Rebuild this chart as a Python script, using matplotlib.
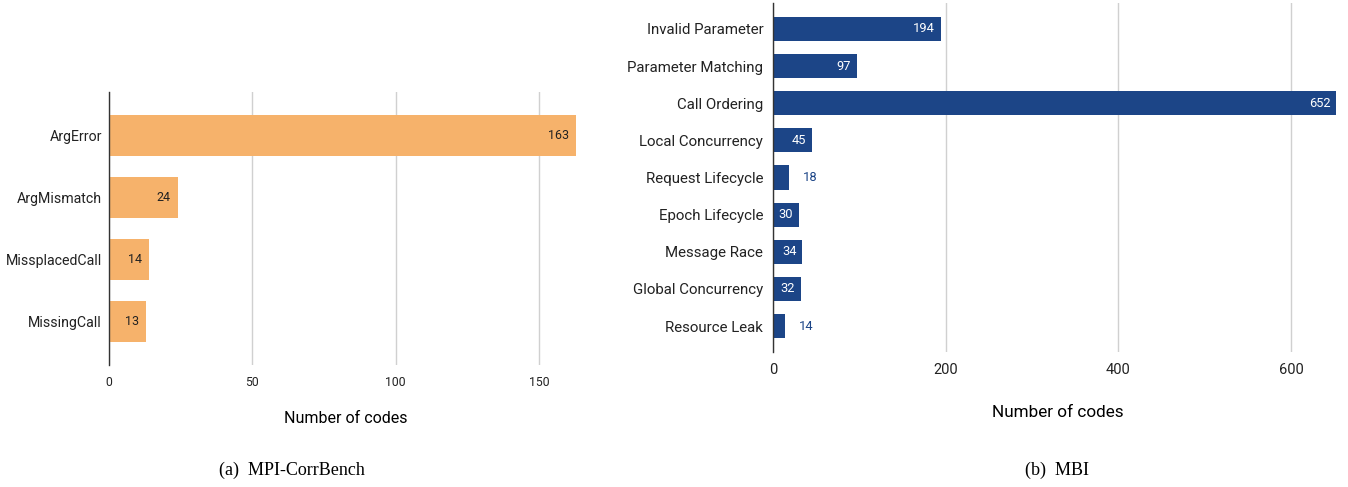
import matplotlib
matplotlib.use("Agg")
import matplotlib.pyplot as plt

plt.rcParams['font.family'] = ['Roboto', 'DejaVu Sans']

# MPI-CorrBench
corr_cats = ["ArgError", "ArgMismatch", "MissplacedCall", "MissingCall"]
corr_vals = [163, 24, 14, 13]

# MBI
mbi_cats = ["Invalid Parameter", "Parameter Matching", "Call Ordering",
            "Local Concurrency", "Request Lifecycle", "Epoch Lifecycle",
            "Message Race", "Global Concurrency", "Resource Leak"]
mbi_vals = [194, 97, 652, 45, 18, 30, 34, 32, 14]

ORANGE = "#f6b26b"
BLUE = "#1c4587"
GRID = "#d0d0d0"

W, H = 1348, 487
fig = plt.figure(figsize=(W / 100, H / 100), dpi=100)


def px_axes(x0, y0, x1, y1):
    return fig.add_axes([x0 / W, 1 - y1 / H, (x1 - x0) / W, (y1 - y0) / H])


def style(ax, ticks, tsize):
    for s in ["top", "right", "bottom"]:
        ax.spines[s].set_visible(False)
    ax.spines["left"].set_color("#333333")
    ax.spines["left"].set_linewidth(1.0)
    ax.set_xticks(ticks)
    ax.xaxis.grid(True, color=GRID, lw=1.0)
    ax.set_axisbelow(True)
    ax.tick_params(axis="both", length=0, colors="#222222")
    ax.tick_params(axis="x", labelsize=tsize, pad=8)


# ---- left panel
ax1 = px_axes(109, 92, 582, 365)
y = range(len(corr_cats))
ax1.barh(y, corr_vals, height=0.65, color=ORANGE, edgecolor="none")
ax1.set_yticks(list(y))
ax1.set_yticklabels(corr_cats, fontsize=10.2)
ax1.set_xlim(0, 165)
ax1.set_ylim(3.7, -0.7)
style(ax1, [0, 50, 100, 150], 8.8)
ax1.tick_params(axis="y", pad=5)
for i, v in enumerate(corr_vals):
    ax1.annotate(str(v), (v, i), xytext=(-5, 0), textcoords="offset points",
                 ha="right", va="center", fontsize=9, color="#222222")
ax1.set_xlabel("Number of codes", fontsize=11.5, labelpad=16)

# ---- right panel
ax2 = px_axes(773, 3, 1343, 352)
y = range(len(mbi_cats))
ax2.barh(y, mbi_vals, height=0.65, color=BLUE, edgecolor="none")
ax2.set_yticks(list(y))
ax2.set_yticklabels(mbi_cats, fontsize=10.8)
ax2.set_xlim(0, 660)
ax2.set_ylim(8.7, -0.7)
style(ax2, [0, 200, 400, 600], 10.5)
ax2.tick_params(axis="y", pad=7)
for i, v in enumerate(mbi_vals):
    if v >= 25:
        ax2.annotate(str(v), (v, i), xytext=(-4, 0), textcoords="offset points",
                     ha="right", va="center", fontsize=9.3, color="white")
    else:
        ax2.annotate(str(v), (v, i), xytext=(10, 0), textcoords="offset points",
                     ha="left", va="center", fontsize=9.3, color=BLUE)
ax2.set_xlabel("Number of codes", fontsize=12.3, labelpad=20)

# captions
fig.text(292 / W, 1 - 470 / H, "(a)  MPI-CorrBench", ha="center", va="center",
         family="Liberation Serif", fontsize=13)
fig.text(1057 / W, 1 - 470 / H, "(b)  MBI", ha="center", va="center",
         family="Liberation Serif", fontsize=13)

fig.savefig("out.png", dpi=100, facecolor="white")
